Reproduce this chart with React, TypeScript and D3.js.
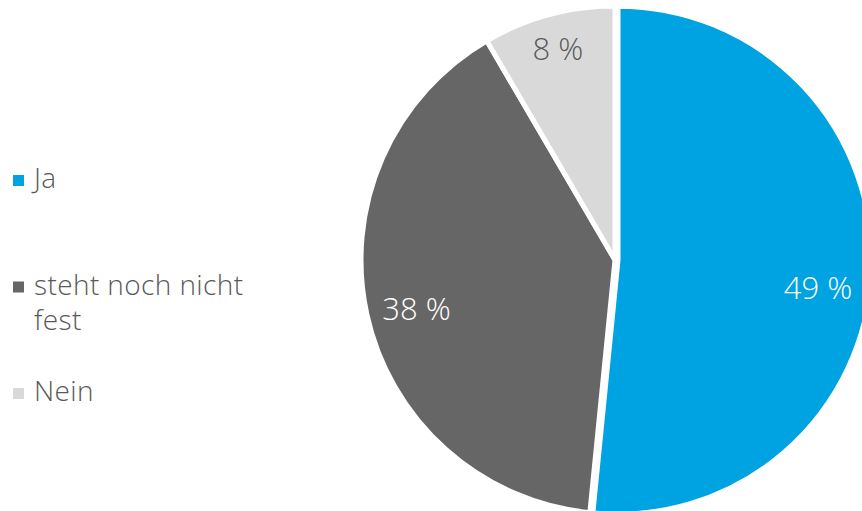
import { arc, pie, scaleOrdinal, scalePoint, select } from 'd3';
import React, { useEffect, useRef } from 'react';

const categories = ['Ja', 'steht noch nicht fest', 'Nein'];
const values = [49, 38, 8];
const labels = ['49 %', '38 %', '8 %'];
const legendLines = [['Ja'], ['steht noch nicht', 'fest'], ['Nein']];

const WIDTH = 862;
const HEIGHT = 511;
const FONT = '"Open Sans", Lato, sans-serif';

const App: React.FC = () => {
  const svgRef = useRef<SVGSVGElement>(null);

  useEffect(() => {
    const svg = select(svgRef.current);
    svg.selectAll('*').remove();

    const cx = 615;
    const cy = 260;
    const radius = 254;

    const color = scaleOrdinal<string, string>()
      .domain(categories)
      .range(['#00A3E1', '#666666', '#D9D9D9']);
    const labelColor = scaleOrdinal<string, string>()
      .domain(categories)
      .range(['#ffffff', '#ffffff', '#595959']);

    const pieGen = pie<number>().sort(null).value((d) => d);
    const arcs = pieGen(values);
    const arcGen = arc<any>().innerRadius(0).outerRadius(radius);
    // small slices get their label pushed further out, like Excel's best fit
    const labelRadius = (d: any) => radius * (d.endAngle - d.startAngle < 0.6 ? 0.86 : 0.8);
    const labelPos = (d: any) =>
      arc<any>().innerRadius(labelRadius(d)).outerRadius(labelRadius(d)).centroid(d);

    const g = svg.append('g').attr('transform', `translate(${cx},${cy})`);

    // Slices (the big one pulled out a little)
    g.selectAll('path')
      .data(arcs)
      .join('path')
      .attr('d', arcGen)
      .attr('transform', (d, i) => {
        if (i !== 0) return null;
        const mid = (d.startAngle + d.endAngle) / 2;
        return `translate(${Math.sin(mid) * 3},${-Math.cos(mid) * 3})`;
      })
      .attr('fill', (d, i) => color(categories[i]))
      .attr('stroke', '#fff')
      .attr('stroke-width', 5)
      .attr('stroke-linejoin', 'round');

    // Data labels
    g.selectAll('text.label')
      .data(arcs)
      .join('text')
      .attr('class', 'label')
      .attr('x', (d) => labelPos(d)[0])
      .attr('y', (d, i) => labelPos(d)[1] + (i === 0 ? 18 : i === 1 ? 5 : 0))
      .attr('dy', '0.36em')
      .attr('text-anchor', 'middle')
      .attr('fill', (d, i) => labelColor(categories[i]))
      .style('font-family', FONT)
      .style('font-weight', 350)
      .style('font-size', '31px')
      .text((d, i) => labels[i]);

    // Legend
    const legendY = scalePoint<string>().domain(categories).range([188, 401]);
    const legend = svg
      .selectAll('g.legend')
      .data(categories)
      .join('g')
      .attr('class', 'legend')
      .attr('transform', (d) => `translate(13,${legendY(d)})`);

    legend
      .append('rect')
      .attr('x', 0)
      .attr('y', -13)
      .attr('width', 11)
      .attr('height', 11)
      .attr('fill', (d) => color(d));

    legend
      .append('text')
      .attr('x', 21)
      .attr('fill', '#595959')
      .style('font-family', FONT)
      .style('font-weight', 350)
      .style('font-size', '28px')
      .style('letter-spacing', '0.4px')
      .selectAll('tspan')
      .data((d, i) => legendLines[i])
      .join('tspan')
      .attr('x', 21)
      .attr('dy', (d, j) => (j === 0 ? 0 : 35))
      .text((d) => d);
  }, []);

  return (
    <>
      <style>{'body{margin:0}'}</style>
      <svg ref={svgRef} width={WIDTH} height={HEIGHT} style={{ display: 'block', background: '#fff' }} />
    </>
  );
};

export default App;
